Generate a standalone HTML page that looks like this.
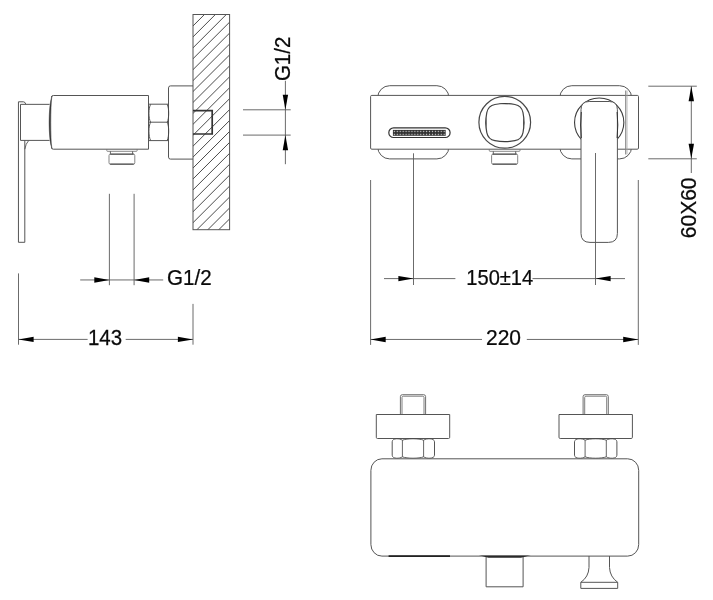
<!DOCTYPE html>
<html><head><meta charset="utf-8"><title>drawing</title>
<style>
html,body{margin:0;padding:0;background:#fff;}
body{width:713px;height:600px;overflow:hidden;}
svg{display:block;font-family:"Liberation Sans",sans-serif;filter:grayscale(1);}
</style></head>
<body>
<svg width="713" height="600" viewBox="0 0 713 600">
<rect width="713" height="600" fill="#fff"/>
<clipPath id="wc"><rect x="193.0" y="14.5" width="36.599999999999994" height="215.2"/></clipPath>
<g clip-path="url(#wc)">
<line x1="192.0" y1="26.94999999999999" x2="230.6" y2="-11.650000000000006" stroke="#4a4a4a" stroke-width="1.0" />
<line x1="192.0" y1="37.879999999999995" x2="230.6" y2="-0.7199999999999989" stroke="#4a4a4a" stroke-width="1.0" />
<line x1="192.0" y1="48.81" x2="230.6" y2="10.210000000000008" stroke="#4a4a4a" stroke-width="1.0" />
<line x1="192.0" y1="59.73999999999998" x2="230.6" y2="21.139999999999986" stroke="#4a4a4a" stroke-width="1.0" />
<line x1="192.0" y1="70.66999999999996" x2="230.6" y2="32.069999999999965" stroke="#4a4a4a" stroke-width="1.0" />
<line x1="192.0" y1="81.59999999999997" x2="230.6" y2="42.99999999999997" stroke="#4a4a4a" stroke-width="1.0" />
<line x1="192.0" y1="92.52999999999997" x2="230.6" y2="53.92999999999998" stroke="#4a4a4a" stroke-width="1.0" />
<line x1="192.0" y1="103.45999999999998" x2="230.6" y2="64.85999999999999" stroke="#4a4a4a" stroke-width="1.0" />
<line x1="192.0" y1="114.38999999999999" x2="230.6" y2="75.78999999999999" stroke="#4a4a4a" stroke-width="1.0" />
<line x1="192.0" y1="125.32" x2="230.6" y2="86.72" stroke="#4a4a4a" stroke-width="1.0" />
<line x1="192.0" y1="136.25" x2="230.6" y2="97.65" stroke="#4a4a4a" stroke-width="1.0" />
<line x1="192.0" y1="147.17999999999995" x2="230.6" y2="108.57999999999996" stroke="#4a4a4a" stroke-width="1.0" />
<line x1="192.0" y1="158.11" x2="230.6" y2="119.51000000000002" stroke="#4a4a4a" stroke-width="1.0" />
<line x1="192.0" y1="169.03999999999996" x2="230.6" y2="130.43999999999997" stroke="#4a4a4a" stroke-width="1.0" />
<line x1="192.0" y1="179.96999999999997" x2="230.6" y2="141.36999999999998" stroke="#4a4a4a" stroke-width="1.0" />
<line x1="192.0" y1="190.89999999999998" x2="230.6" y2="152.29999999999998" stroke="#4a4a4a" stroke-width="1.0" />
<line x1="192.0" y1="201.82999999999998" x2="230.6" y2="163.23" stroke="#4a4a4a" stroke-width="1.0" />
<line x1="192.0" y1="212.76" x2="230.6" y2="174.16" stroke="#4a4a4a" stroke-width="1.0" />
<line x1="192.0" y1="223.69" x2="230.6" y2="185.09" stroke="#4a4a4a" stroke-width="1.0" />
<line x1="192.0" y1="234.62" x2="230.6" y2="196.02" stroke="#4a4a4a" stroke-width="1.0" />
<line x1="192.0" y1="245.54999999999995" x2="230.6" y2="206.94999999999996" stroke="#4a4a4a" stroke-width="1.0" />
<line x1="192.0" y1="256.48" x2="230.6" y2="217.88000000000002" stroke="#4a4a4a" stroke-width="1.0" />
</g>
<rect x="193.0" y="14.5" width="36.599999999999994" height="215.2" fill="none" stroke="#555555" stroke-width="1"/>
<path d="M193,110.6 H212.2 V134 H193" stroke="#333" stroke-width="1.7" fill="none" />
<path d="M193,85.9 H170.5 Q168.5,85.9 168.5,87.9 V157.1 Q168.5,159.1 170.5,159.1 H193" stroke="#555555" stroke-width="1.0" fill="none" />
<path d="M148.5,104.2 H168.2 M148.5,122.2 H168.2 M148.5,140.6 H168.2" stroke="#555555" stroke-width="1.0" fill="none" />
<path d="M150.6,104.4 C148.4,108 148.4,118.5 150.6,122.2 C148.4,126 148.4,136.5 150.6,140.4" stroke="#444" stroke-width="0.9" fill="none" />
<path d="M167.2,104.4 C169.2,108 169.2,118.5 167.2,122.2 C169.2,126 169.2,136.5 167.2,140.4" stroke="#444" stroke-width="0.9" fill="none" />
<path d="M51.5,97.2 Q51.5,95.5 53.3,95.5 H148.5 V149.2 H53.3 Q51.5,149.2 51.5,147.5" stroke="#555555" stroke-width="1.0" fill="none" />
<path d="M51.9,96.2 C48.2,106 48.2,139 51.9,148.5 C50.4,139 50.4,106 51.9,96.2 Z" fill="#383838" stroke="#383838" stroke-width="0.5"/>
<path d="M106.8,149.4 V150.6 Q106.8,151.3 107.5,151.3 H136.4 Q137.1,151.3 137.1,150.6 V149.4" stroke="#6a6a6a" stroke-width="0.8" fill="none" />
<path d="M110.4,151.3 V153.8 M132.6,151.3 V153.8" stroke="#555" stroke-width="0.9" fill="none" />
<path d="M110.6,154 Q109.0,154 109.0,155.6 V162.7 Q109.0,164.3 110.6,164.3 M133.20000000000002,154 Q134.8,154 134.8,155.6 V162.7 Q134.8,164.3 133.20000000000002,164.3" stroke="#777" stroke-width="0.9" fill="none" />
<path d="M110.2,154.1 H133.60000000000002 M110.2,164.1 H133.60000000000002" stroke="#3a3a3a" stroke-width="1.3" fill="none" />
<path d="M20.5,104.35 H49.6 M20.5,140.4 H49.6 M20.5,104.35 V140.4" stroke="#555555" stroke-width="1.0" fill="none" />
<path d="M18.45,242.3 V101.8 H23.4 Q25.2,101.8 25.8,104.3" stroke="#555555" stroke-width="1.0" fill="none" />
<path d="M18.45,242.3 H24.8 V140.4" stroke="#555555" stroke-width="1.0" fill="none" />
<path d="M24.8,149.2 Q25.7,143.6 28.7,140.5" stroke="#555555" stroke-width="0.9" fill="none" />
<line x1="109.4" y1="193.8" x2="109.4" y2="285.2" stroke="#5a5a5a" stroke-width="0.9" />
<line x1="134.1" y1="193.8" x2="134.1" y2="285.2" stroke="#5a5a5a" stroke-width="0.9" />
<line x1="80.2" y1="279.95" x2="163.2" y2="279.95" stroke="#5a5a5a" stroke-width="0.9" />
<polygon points="109.4,279.95 94.30,282.65 94.30,277.25" fill="#000"/>
<polygon points="134.1,279.95 149.20,277.25 149.20,282.65" fill="#000"/>
<text transform="translate(167.1,285.4) scale(0.9662799999999999,1)" font-size="21.3" text-anchor="start" fill="#0a0a0a" stroke="#0a0a0a" stroke-width="0.25">G1/2</text>
<line x1="18.5" y1="273.4" x2="18.5" y2="344.7" stroke="#5a5a5a" stroke-width="0.9" />
<line x1="193" y1="303.9" x2="193" y2="344.7" stroke="#5a5a5a" stroke-width="0.9" />
<line x1="18.5" y1="339.4" x2="87.6" y2="339.4" stroke="#5a5a5a" stroke-width="0.9" />
<line x1="125.7" y1="339.4" x2="193" y2="339.4" stroke="#5a5a5a" stroke-width="0.9" />
<polygon points="18.5,339.4 33.60,336.70 33.60,342.10" fill="#000"/>
<polygon points="193,339.4 177.90,342.10 177.90,336.70" fill="#000"/>
<text transform="translate(105.0,345.0) scale(0.9613499999999999,1)" font-size="21.3" text-anchor="middle" fill="#0a0a0a" stroke="#0a0a0a" stroke-width="0.25">143</text>
<line x1="243" y1="109.8" x2="290.7" y2="109.8" stroke="#5a5a5a" stroke-width="0.9" />
<line x1="243" y1="135.1" x2="290.7" y2="135.1" stroke="#5a5a5a" stroke-width="0.9" />
<line x1="285.4" y1="80.8" x2="285.4" y2="164.2" stroke="#5a5a5a" stroke-width="0.9" />
<polygon points="285.4,109.8 282.70,94.70 288.10,94.70" fill="#000"/>
<polygon points="285.4,135.1 288.10,150.20 282.70,150.20" fill="#000"/>
<text transform="translate(290.1,81.1) rotate(-90) scale(0.9613499999999999,1)" font-size="21.3" text-anchor="start" fill="#0a0a0a" stroke="#0a0a0a" stroke-width="0.25">G1/2</text>
<rect x="377.7" y="85.7" width="71.2" height="73.2" rx="12" ry="12" fill="none" stroke="#555555" stroke-width="1"/>
<rect x="559.8" y="85.7" width="71.8" height="73.2" rx="12" ry="12" fill="none" stroke="#555555" stroke-width="1"/>
<rect x="370.6" y="95.4" width="267.9" height="53.8" rx="1.2" ry="1.2" fill="#fff" stroke="#555555" stroke-width="1"/>
<line x1="625.7" y1="90.5" x2="625.7" y2="154.5" stroke="#808080" stroke-width="1.0" />
<line x1="627.0" y1="90.5" x2="627.0" y2="154.5" stroke="#a8a8a8" stroke-width="0.8" />
<rect x="388.8" y="127.8" width="61.3" height="9.7" rx="4.85" ry="4.85" fill="#fff" stroke="#333" stroke-width="1.2"/>
<pattern id="dots" x="392.9" y="129.9" width="2.93" height="2.95" patternUnits="userSpaceOnUse"><rect width="2.93" height="2.95" fill="#2e2e2e"/><rect x="0.85" y="0.9" width="1.25" height="1.2" fill="#d8d8d8"/></pattern>
<rect x="392.9" y="129.9" width="52.8" height="5.9" fill="url(#dots)"/>
<circle cx="504.75" cy="122.3" r="25.85" fill="#fff" stroke="#484848" stroke-width="1.2"/>
<path d="M494.9,104.5 Q504.9,102.5 514.9,104.5 C519.5,105.4 522.1,108.0 523.0,112.6 Q525.0,122.6 523.0,132.6 C522.1,137.2 519.5,139.79999999999998 514.9,140.7 Q504.9,142.7 494.9,140.7 C490.29999999999995,139.79999999999998 487.69999999999993,137.2 486.79999999999995,132.6 Q484.79999999999995,122.6 486.79999999999995,112.6 C487.69999999999993,108.0 490.29999999999995,105.4 494.9,104.5 Z" stroke="#444" stroke-width="1.2" fill="none" />
<path d="M498.4,103.85 Q504.9,102.75 511.4,103.85 Q504.9,104.55 498.4,103.85 Z" fill="#3a3a3a"/>
<path d="M498.4,141.35 Q504.9,142.45 511.4,141.35 Q504.9,140.64999999999998 498.4,141.35 Z" fill="#3a3a3a"/>
<path d="M486.15,116.1 Q485.04999999999995,122.6 486.15,129.1 Q486.84999999999997,122.6 486.15,116.1 Z" fill="#3a3a3a"/>
<path d="M523.65,116.1 Q524.75,122.6 523.65,129.1 Q522.95,122.6 523.65,116.1 Z" fill="#3a3a3a"/>
<path d="M489.3,149.4 V150.6 Q489.3,151.3 490.0,151.3 H519.3 Q520.0,151.3 520.0,150.6 V149.4" stroke="#6a6a6a" stroke-width="0.8" fill="none" />
<path d="M493.3,151.3 V153.8 M515.7,151.3 V153.8" stroke="#555" stroke-width="0.9" fill="none" />
<path d="M493.20000000000005,154 Q491.6,154 491.6,155.6 V162.7 Q491.6,164.3 493.20000000000005,164.3 M516.1,154 Q517.7,154 517.7,155.6 V162.7 Q517.7,164.3 516.1,164.3" stroke="#777" stroke-width="0.9" fill="none" />
<path d="M492.8,154.1 H516.5 M492.8,164.1 H516.5" stroke="#3a3a3a" stroke-width="1.3" fill="none" />
<ellipse cx="599.2" cy="122.5" rx="24.65" ry="24.5" fill="none" stroke="#3c3c3c" stroke-width="1.1"/>
<path d="M581,233.4 V109.7 Q581,101.5 589.2,101.5 H609.2 Q617.4,101.5 617.4,109.7 V233.4 Q617.4,242.4 608.4,242.4 H590 Q581,242.4 581,233.4 Z" stroke="#555555" stroke-width="1.0" fill="#fff" />
<path d="M581.3,112 Q579.9,125 581.3,138 M617.1,112 Q618.5,125 617.1,138" stroke="#333" stroke-width="1.0" fill="none" />
<line x1="413.5" y1="153.3" x2="413.5" y2="285" stroke="#5a5a5a" stroke-width="0.9" />
<line x1="595.5" y1="153" x2="595.5" y2="285" stroke="#5a5a5a" stroke-width="0.9" />
<line x1="384" y1="278.6" x2="455.4" y2="278.6" stroke="#5a5a5a" stroke-width="0.9" />
<line x1="532.5" y1="278.6" x2="625" y2="278.6" stroke="#5a5a5a" stroke-width="0.9" />
<polygon points="413.5,278.6 398.40,281.30 398.40,275.90" fill="#000"/>
<polygon points="595.5,278.6 610.60,275.90 610.60,281.30" fill="#000"/>
<text transform="translate(466.3,285.2) scale(0.9436019999999999,1)" font-size="21.3" text-anchor="start" fill="#0a0a0a" stroke="#0a0a0a" stroke-width="0.25">150±14</text>
<line x1="370.6" y1="180" x2="370.6" y2="344.9" stroke="#5a5a5a" stroke-width="0.9" />
<line x1="638.3" y1="180" x2="638.3" y2="344.9" stroke="#5a5a5a" stroke-width="0.9" />
<line x1="370.6" y1="339.45" x2="482" y2="339.45" stroke="#5a5a5a" stroke-width="0.9" />
<line x1="526.8" y1="339.45" x2="638.3" y2="339.45" stroke="#5a5a5a" stroke-width="0.9" />
<polygon points="370.6,339.45 385.70,336.75 385.70,342.15" fill="#000"/>
<polygon points="638.3,339.45 623.20,342.15 623.20,336.75" fill="#000"/>
<text transform="translate(503.5,345.0) scale(0.986,1)" font-size="21.3" text-anchor="middle" fill="#0a0a0a" stroke="#0a0a0a" stroke-width="0.25">220</text>
<line x1="648.3" y1="86.2" x2="696.8" y2="86.2" stroke="#5a5a5a" stroke-width="0.9" />
<line x1="648.3" y1="158.8" x2="696.8" y2="158.8" stroke="#5a5a5a" stroke-width="0.9" />
<line x1="691.3" y1="86.2" x2="691.3" y2="173" stroke="#5a5a5a" stroke-width="0.9" />
<polygon points="691.3,86.2 694.00,101.30 688.60,101.30" fill="#000"/>
<polygon points="691.3,158.8 688.60,143.70 694.00,143.70" fill="#000"/>
<text transform="translate(696.1,238.2) rotate(-90) scale(0.986,1)" font-size="21.3" text-anchor="start" fill="#0a0a0a" stroke="#0a0a0a" stroke-width="0.25">60X60</text>
<path d="M400.4,414.5 V396.6 Q400.4,394.7 402.3,394.7 H423.7 Q425.6,394.7 425.6,396.6 V414.5" stroke="#686868" stroke-width="0.95" fill="none" />
<path d="M402.0,414.5 V397.4 Q402.0,396.2 403.2,396.2 H422.8 Q424.0,396.2 424.0,397.4 V414.5" stroke="#787878" stroke-width="0.95" fill="none" />
<path d="M376.3,414.5 H449.7 V437.3 Q449.7,438.5 448.5,438.5 H377.5 Q376.3,438.5 376.3,437.3 Z" stroke="#555555" stroke-width="1.0" fill="none" />
<path d="M392.2,441.8 V455.2 M434.5,441.8 V455.2" stroke="#555555" stroke-width="1.0" fill="none" />
<path d="M402.4,440.2 V456.8 M423.6,440.2 V456.8" stroke="#555555" stroke-width="0.9" fill="none" />
<path d="M392.2,441.8 C392.2,437.9 399.9,438.2 402.4,440.2 C406.9,438.3 419.1,438.3 423.6,440.2 C426.1,438.2 434.5,437.9 434.5,441.8" stroke="#4a4a4a" stroke-width="0.9" fill="none" />
<path d="M392.2,455.2 C392.2,459.1 399.9,458.8 402.4,456.8 C406.9,458.7 419.1,458.7 423.6,456.8 C426.1,458.8 434.5,459.1 434.5,455.2" stroke="#4a4a4a" stroke-width="0.9" fill="none" />
<path d="M583.1,414.5 V396.6 Q583.1,394.7 585.0,394.7 H606.4000000000001 Q608.3000000000001,394.7 608.3000000000001,396.6 V414.5" stroke="#686868" stroke-width="0.95" fill="none" />
<path d="M584.7,414.5 V397.4 Q584.7,396.2 585.9000000000001,396.2 H605.5 Q606.7,396.2 606.7,397.4 V414.5" stroke="#787878" stroke-width="0.95" fill="none" />
<path d="M559.0,414.5 H632.4000000000001 V437.3 Q632.4000000000001,438.5 631.2,438.5 H560.2 Q559.0,438.5 559.0,437.3 Z" stroke="#555555" stroke-width="1.0" fill="none" />
<path d="M574.5,441.8 V455.2 M616.9000000000001,441.8 V455.2" stroke="#555555" stroke-width="1.0" fill="none" />
<path d="M585.1,440.2 V456.8 M606.3000000000001,440.2 V456.8" stroke="#555555" stroke-width="0.9" fill="none" />
<path d="M574.5,441.8 C574.5,437.9 582.6,438.2 585.1,440.2 C589.6,438.3 601.8000000000001,438.3 606.3000000000001,440.2 C608.8000000000001,438.2 616.9000000000001,437.9 616.9000000000001,441.8" stroke="#4a4a4a" stroke-width="0.9" fill="none" />
<path d="M574.5,455.2 C574.5,459.1 582.6,458.8 585.1,456.8 C589.6,458.7 601.8000000000001,458.7 606.3000000000001,456.8 C608.8000000000001,458.8 616.9000000000001,459.1 616.9000000000001,455.2" stroke="#4a4a4a" stroke-width="0.9" fill="none" />
<rect x="370.9" y="458.8" width="267.8" height="97.3" rx="11" ry="11.5" fill="#fff" stroke="#555555" stroke-width="1"/>
<line x1="388.6" y1="556.1" x2="450" y2="556.1" stroke="#222" stroke-width="1.6" />
<path d="M486.1,556 V586.8 H523.1 V556" stroke="#555555" stroke-width="1.0" fill="none" />
<path d="M478.8,555.6 H530.9 C526,556.3 523.5,557.5 521,557.7 H488.5 C486,557.5 483.5,556.3 478.8,555.6 Z" fill="#2a2a2a"/>
<path d="M589,556 V567.5 Q588.6,577 580.8,582.3 H617.7 Q610,577 609.5,567.5 V556" stroke="#555555" stroke-width="1.0" fill="none" />
<path d="M580.8,582.3 V588.4 H617.7 V582.3" stroke="#555555" stroke-width="1.0" fill="none" />
</svg>
</body></html>
